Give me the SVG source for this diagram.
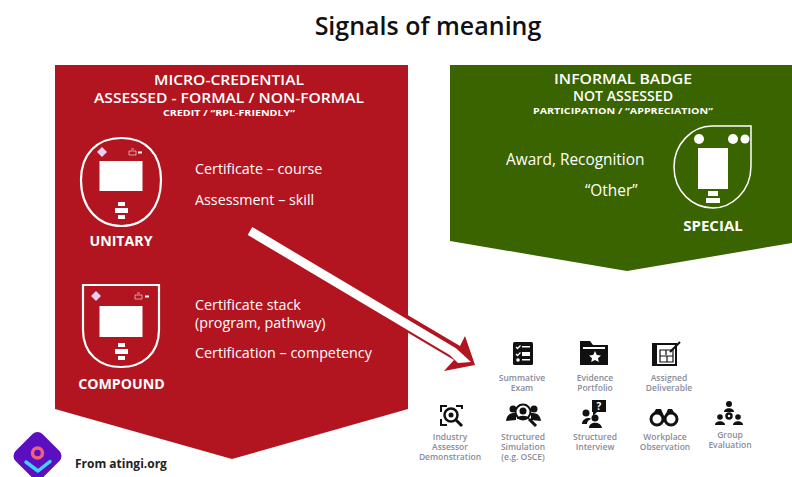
<svg xmlns="http://www.w3.org/2000/svg" width="792" height="477" viewBox="0 0 792 477">
<style>
text{font-family:"Open Sans","Liberation Sans",sans-serif}
.h1{font-size:14px;font-weight:600;fill:#fff;text-anchor:middle}
.h1s{font-size:13.500px;font-weight:600;fill:#fff;text-anchor:middle}
.h2{font-size:9.500px;font-weight:700;fill:#fff;text-anchor:middle}
.b{font-size:14.300px;fill:#fff}
.a{font-size:15.400px;fill:#fff}
.n{font-size:14.200px;font-weight:700;fill:#fff;text-anchor:middle}
.c{font-size:8.500px;font-weight:600;fill:#8a8b9c;text-anchor:middle}
.o{fill:none;stroke:#fff;stroke-width:2.200}
.w{fill:#fff}
.k{fill:#111}
.t{fill:none;stroke:#f3d9dc;stroke-width:.7}
</style>
<rect width="792" height="477" fill="#fff"/>
<text x="428" y="35" text-anchor="middle" font-size="25" font-weight="600" fill="#111">Signals of meaning</text>

<g id="micro-credential">
<polygon points="55,65 408,65 408,409 232,459 55,409" fill="#b2151f"/>
<text class="h1" x="229" y="85" textLength="150" lengthAdjust="spacingAndGlyphs">MICRO-CREDENTIAL</text>
<text class="h1" x="229" y="103" textLength="270" lengthAdjust="spacingAndGlyphs">ASSESSED - FORMAL / NON-FORMAL</text>
<text class="h2" x="229" y="116" textLength="132" lengthAdjust="spacingAndGlyphs">CREDIT / “RPL-FRIENDLY”</text>
<text class="b" x="195" y="174">Certificate – course</text>
<text class="b" x="195" y="205">Assessment – skill</text>
<text class="b"><tspan x="195" y="310">Certificate stack</tspan><tspan x="195" y="328">(program, pathway)</tspan></text>
<text class="b" x="195" y="358">Certification – competency</text>
</g>

<g id="unitary">
<path class="o" d="M121.500,138 C146,138 161,154 161,180 C161,208 145,226 121.500,226 C98,226 81,208 81,180 C81,154 97,138 121.500,138Z"/>
<polygon points="102,147 107,152 102,157 97,152" fill="#e8d0f0"/>
<path class="t" d="M129,151 h7 v4 h-7z M131,149 h3"/>
<rect class="w" x="138" y="151.500" width="4" height="2"/>
<rect class="w" x="99.500" y="161" width="43" height="30"/>
<rect class="w" x="118" y="202" width="7" height="4"/>
<rect class="w" x="115" y="208" width="13" height="5"/>
<rect class="w" x="118" y="215" width="7" height="4"/>
<text class="n" x="121" y="246">UNITARY</text>
</g>

<g id="compound">
<path class="o" d="M83,285 H159 V330 C159,354 142,367 121,367 C100,367 83,354 83,330Z"/>
<polygon points="96,291 101,296 96,301 91,296" fill="#e8d0f0"/>
<path class="t" d="M135,295 h7 v4 h-7z M137,293 h3"/>
<rect class="w" x="145" y="295.500" width="4" height="2"/>
<rect class="w" x="99.500" y="306" width="43" height="31"/>
<rect class="w" x="118" y="343" width="7" height="4"/>
<rect class="w" x="115" y="349" width="13" height="5"/>
<rect class="w" x="118" y="356" width="7" height="4"/>
<text class="n" x="121.500" y="389">COMPOUND</text>
</g>

<g id="informal-badge">
<polygon points="450,65 792,65 792,243 627,271 450,241" fill="#3a6400"/>
<text class="h1s" x="623" y="84" textLength="138" lengthAdjust="spacingAndGlyphs">INFORMAL BADGE</text>
<text class="h1s" x="623" y="101" textLength="100" lengthAdjust="spacingAndGlyphs">NOT ASSESSED</text>
<text class="h2" x="623" y="114" textLength="180" lengthAdjust="spacingAndGlyphs">PARTICIPATION / “APPRECIATION”</text>
<text class="a" x="506" y="165">Award, Recognition</text>
<text class="a" x="585" y="196">“Other”</text>
</g>

<g id="special">
<path fill="none" stroke="#fff" stroke-width="1.500" d="M712,126 H751 V166 C751,192 731,208 713,208 C693,208 674,192 674,167 C674,144 692,126 712,126Z"/>
<circle class="w" cx="699" cy="139" r="5"/>
<circle class="w" cx="733" cy="139" r="5"/>
<circle class="w" cx="745" cy="139" r="4.500"/>
<rect class="w" x="698" y="148" width="30" height="41"/>
<rect class="w" x="708" y="191" width="10" height="5"/>
<rect class="w" x="706" y="198" width="14" height="5"/>
<text class="n" x="713" y="231" style="font-size:15px">SPECIAL</text>
</g>

<g id="connectors">
<polygon points="303.800,253.600 460,346 465,336 475,365 444,371 454,360 296.200,266.400" fill="#b2151f"/>
<polygon points="252.300,227.100 456,348.200 471,362 458,363 450,355.200 247.700,234.900" fill="#fff"/>
</g>

<g id="summative-exam">
<rect class="k" x="513" y="342" width="20" height="23" rx="1.500"/>
<path fill="none" stroke="#fff" stroke-width="1.300" d="M516,347 l1.500,1.500 3,-3 M516,354 l1.500,1.500 3,-3"/>
<circle class="w" cx="518" cy="360" r="1.800"/>
<rect class="w" x="522" y="346" width="8" height="1.500"/>
<rect class="w" x="522" y="352" width="8" height="4"/>
<rect class="w" x="522" y="359" width="8" height="1.500"/>
<text class="c" x="522" y="381">Summative</text>
<text class="c" x="522" y="391">Exam</text>
</g>

<g id="evidence-portfolio">
<path class="k" d="M580,341 H590 L593,345 H608 V365 H580Z"/>
<path class="w" d="M583,347 H605 V349 H583Z"/>
<polygon class="w" points="595,351 596.800,355 601,355.400 598,358.200 598.800,362 595,360 591.200,362 592,358.200 589,355.400 593.200,355"/>
<text class="c" x="595" y="381">Evidence</text>
<text class="c" x="595" y="391">Portfolio</text>
</g>

<g id="assigned-deliverable">
<path fill="none" stroke="#111" stroke-width="2" d="M654,344 H676 V365 H654Z"/>
<rect class="k" x="652" y="343" width="5" height="23"/>
<path fill="none" stroke="#111" stroke-width="1.200" d="M660,350 H673 V362 H660Z M666,350 V355 M660,356 H673 M667,356 V362"/>
<path stroke="#111" stroke-width="2" d="M670,352 L680,342"/>
<text class="c" x="669" y="381">Assigned</text>
<text class="c" x="669" y="391">Deliverable</text>
</g>

<g id="industry-assessor">
<path fill="none" stroke="#111" stroke-width="2" d="M441,412 V406 H447 M456,406 H462 V409 M441,419 V425 H447"/>
<circle cx="451" cy="415" r="6.500" fill="none" stroke="#111" stroke-width="2.500"/>
<circle class="k" cx="451" cy="415" r="2.500"/>
<path stroke="#111" stroke-width="3" d="M456,420 L462,426"/>
<text class="c" x="450" y="440">Industry</text>
<text class="c" x="450" y="450">Assessor</text>
<text class="c" x="450" y="460">Demonstration</text>
</g>

<g id="structured-simulation">
<circle class="k" cx="513" cy="409" r="3.500"/>
<circle class="k" cx="534" cy="409" r="3.500"/>
<path class="k" d="M506,421 C507,413 512,413 516,413 V420Z M541,421 C540,413 535,413 531,413 V420Z"/>
<circle cx="523" cy="412" r="7.500" fill="#fff" stroke="#111" stroke-width="2"/>
<circle class="k" cx="523" cy="411" r="3.500"/>
<path class="k" d="M517,418 C519,415 527,415 529,418 V419 H517Z"/>
<path stroke="#111" stroke-width="3" d="M529,419 L536,426"/>
<text class="c" x="523" y="440">Structured</text>
<text class="c" x="523" y="450">Simulation</text>
<text class="c" x="523" y="460">(e.g. OSCE)</text>
</g>

<g id="structured-interview">
<path class="k" d="M592,400 H606 V412 H597 L593,416 V412 H592Z"/>
<text x="599" y="410" text-anchor="middle" font-size="10" font-weight="700" fill="#fff">?</text>
<circle class="k" cx="586" cy="413" r="3.500"/>
<circle class="k" cx="595" cy="418" r="3.500"/>
<path class="k" d="M582,424 C582,418 590,417 591,419 C588,420 587,422 587,424Z M589,428 C589,421 601,421 602,428Z"/>
<text class="c" x="595" y="440">Structured</text>
<text class="c" x="595" y="450">Interview</text>
</g>

<g id="workplace-observation">
<path class="k" d="M650,419 L656,409 H661 L664,416 H665 L668,409 H672 L678,419 Z"/>
<circle cx="657" cy="419" r="6" fill="#fff" stroke="#111" stroke-width="3"/>
<circle cx="671" cy="419" r="6" fill="#fff" stroke="#111" stroke-width="3"/>
<text class="c" x="665" y="440">Workplace</text>
<text class="c" x="665" y="450">Observation</text>
</g>

<g id="group-evaluation">
<circle class="k" cx="729" cy="404" r="3"/>
<path class="k" d="M724,412 C724,407 734,407 734,412Z"/>
<circle class="k" cx="720" cy="417" r="2.800"/>
<path class="k" d="M715,425 C715,420 725,420 725,425Z"/>
<circle class="k" cx="738" cy="417" r="2.800"/>
<path class="k" d="M733,425 C733,420 743,420 743,425Z"/>
<circle cx="729" cy="416" r="2.500" fill="none" stroke="#111" stroke-width="2.500"/>
<text class="c" x="730" y="438">Group</text>
<text class="c" x="730" y="448">Evaluation</text>
</g>

<g id="atingi-logo">
<rect x="18.500" y="437" width="38" height="38" rx="7" transform="rotate(45 37.500 456)" fill="#5b0fc0"/>
<circle cx="37.500" cy="453" r="5" fill="none" stroke="#f0607a" stroke-width="3.500"/>
<path d="M26,462 L38,471 L50,461.500" fill="none" stroke="#3fd4f4" stroke-width="3.500" stroke-linecap="round" stroke-linejoin="round"/>
</g>
<text x="75" y="468" font-size="12" font-weight="700" fill="#222">From atingi.org</text>
</svg>
